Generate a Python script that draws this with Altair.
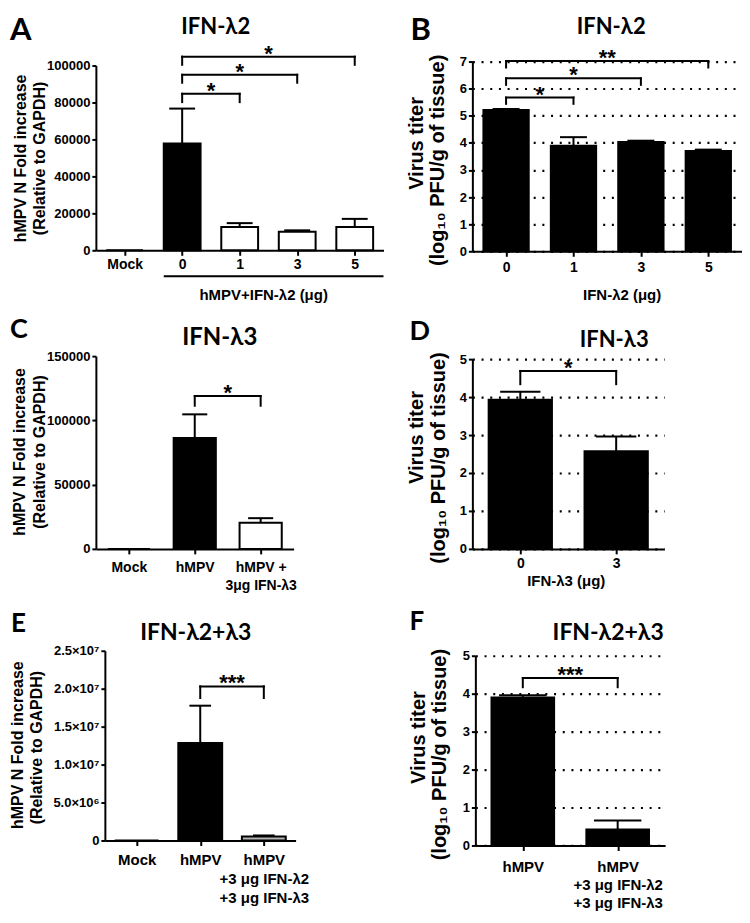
import json
import pandas as pd
import altair as alt

# ---------------- data ----------------
A_labels = ["Mock", "0", "1", "3", "5"]
A_means = [0, 57800, 12600, 10000, 12600]
A_errs = [0, 18900, 2100, 800, 4400]
A_pairs = [[1, 2], [1, 3], [1, 4]]
A_pair_y = [84700, 95000, 104800]
A_pair_tick = [80200, 90700, 100400]
A_stars = ["*", "*", "*"]

B_labels = ["0", "1", "3", "5"]
B_means = [5.21, 3.89, 4.03, 3.70]
B_errs = [0.04, 0.32, 0.05, 0.05]
B_pairs = [[0, 1], [0, 2], [0, 3]]
B_pair_y = [5.67, 6.38, 7.02]
B_pair_tick = [5.44, 6.14, 6.78]
B_stars = ["*", "*", "**"]

C_labels = ["Mock", "hMPV", "hMPV +|3μg IFN-λ3"]
C_means = [0, 86300, 20300]
C_errs = [0, 18400, 3600]
C_pairs = [[1, 2]]
C_pair_y = [118900]
C_pair_tick = [111400]
C_stars = ["*"]

D_labels = ["0", "3"]
D_means = [3.93, 2.57]
D_errs = [0.21, 0.39]
D_pairs = [[0, 1]]
D_pair_y = [4.69]
D_pair_tick = [4.34]
D_stars = ["*"]

E_labels = ["Mock", "hMPV", "hMPV|+3 μg IFN-λ2|+3 μg IFN-λ3"]
E_means = [0, 12850000, 530000]
E_errs = [0, 4910000, 130000]
E_pairs = [[1, 2]]
E_pair_y = [20300000]
E_pair_tick = [18770000]
E_stars = ["***"]

F_labels = ["hMPV", "hMPV|+3 μg IFN-λ2|+3 μg IFN-λ3"]
F_means = [3.90, 0.42]
F_errs = [0.06, 0.24]
F_pairs = [[0, 1]]
F_pair_y = [4.41]
F_pair_tick = [4.17]
F_stars = ["***"]

FONT = "Arial"
TFONT = "Lato"


def txt(text, x, y, size, font=FONT, angle=0, align="center", baseline="alphabetic"):
    return alt.Chart(pd.DataFrame({"t": [text]})).mark_text(
        font=font, fontWeight="bold", fontSize=size, angle=angle, align=align,
        baseline=baseline, color="black"
    ).encode(x=alt.value(x), y=alt.value(y), text="t:N")


def build(labels, means, errs, pairs, pair_y, pair_tick, stars, st):
    n = len(labels)
    hw, cw = st["hw"], st["cw"]
    df = pd.DataFrame({"pos": list(range(n)), "label": labels, "mean": means,
                       "err": errs, "fill": st["fills"]})
    df["lo"] = df["pos"] - hw
    df["hi"] = df["pos"] + hw
    df["top"] = df["mean"] + df["err"]
    df["clo"] = df["pos"] - cw
    df["chi"] = df["pos"] + cw
    eb = df[df["err"] > 0]
    br = pd.DataFrame({"x1": [p[0] for p in pairs], "x2": [p[1] for p in pairs],
                       "y": pair_y, "ylo": pair_tick, "star": stars})
    br["xm"] = (br["x1"] + br["x2"]) / 2
    ticks = pd.DataFrame({"x": list(br["x1"]) + list(br["x2"]),
                          "y": list(br["y"]) * 2, "ylo": list(br["ylo"]) * 2})

    xkw = {"range": st["xrange"]} if "xrange" in st else {}
    ykw = {"range": st["yrange"]} if "yrange" in st else {}
    xs = alt.Scale(domain=[-0.5, n - 0.5], nice=False, zero=False, **xkw)
    ys = alt.Scale(domain=[0, st["ymax"]], nice=False, **ykw)

    label_arr = json.dumps(labels, ensure_ascii=False)
    xaxis = alt.Axis(values=list(range(n)), labelExpr=f"split({label_arr}[datum.value], '|')",
                     title=None, grid=False, labelOverlap=False, labelFlush=False,
                     domainWidth=2, domainColor="black", tickWidth=2, tickColor="black",
                     tickSize=5, labelPadding=st["lp"], labelFont=FONT, labelFontWeight="bold",
                     labelFontSize=st["xfs"], labelLineHeight=st.get("lh", 18), labelColor="black")
    ykw2 = {}
    if "ylabelexpr" in st:
        ykw2["labelExpr"] = st["ylabelexpr"]
    else:
        ykw2["format"] = "d"
    if "yoffset" in st:
        ykw2["offset"] = st["yoffset"]
    yaxis = alt.Axis(values=st["yvals"], title=None, grid=st["grid"], gridDash=[2, 6.7],
                     gridWidth=2.2, gridColor="black", gridOpacity=1, domainWidth=2,
                     domainColor="black", tickWidth=2, tickColor="black", tickSize=4,
                     labelPadding=2, labelFont=FONT, labelFontWeight="bold",
                     labelFontSize=13, labelColor="black", **ykw2)

    def X(f):
        return alt.X(f, scale=xs, axis=xaxis)

    def Y(f):
        return alt.Y(f, scale=ys, axis=yaxis)

    bars = alt.Chart(df).mark_bar(stroke="black", strokeWidth=2).encode(
        x=X("lo:Q"), x2="hi:Q", y=Y("mean:Q"), y2=alt.datum(0),
        fill=alt.Fill("fill:N", scale=None))
    err = alt.Chart(eb).mark_rule(color="black", strokeWidth=2).encode(
        x=X("pos:Q"), y=Y("mean:Q"), y2="top:Q")
    caps = alt.Chart(eb).mark_rule(color="black", strokeWidth=2).encode(
        x=X("clo:Q"), x2="chi:Q", y=Y("top:Q"))
    bh = alt.Chart(br).mark_rule(color="black", strokeWidth=2, strokeCap="square").encode(
        x=X("x1:Q"), x2="x2:Q", y=Y("y:Q"))
    bt = alt.Chart(ticks).mark_rule(color="black", strokeWidth=2, strokeCap="square").encode(
        x=X("x:Q"), y=Y("y:Q"), y2="ylo:Q")
    sts = alt.Chart(br).mark_text(font=FONT, fontWeight="bold", fontSize=22,
                                  baseline="alphabetic", dy=4, color="black").encode(
        x=X("xm:Q"), y=Y("y:Q"), text="star:N")

    layers = [bars, err, caps, bh, bt, sts]
    if "underline" in st:
        layers.append(alt.Chart(df[df["pos"] == 1]).mark_rule(color="black", strokeWidth=2).encode(
            x=X("lo:Q"), x2=alt.value(st["width"]), y=alt.value(st["underline"])))
    lt, lx, ly, ls = st["letter"]
    layers.append(txt(lt, lx, ly, ls, font=TFONT, align="left"))
    tt, tx, ty, tsz = st["title"]
    layers.append(txt(tt, tx, ty, tsz, font=TFONT))
    for (yt, yx, yy) in st["ytitles"]:
        layers.append(txt(yt, yx, yy, st["ytsize"], angle=270, baseline="middle"))
    if "xtitle" in st:
        xt, xx, xy = st["xtitle"]
        layers.append(txt(xt, xx, xy, 15))
    return alt.layer(*layers).properties(width=st["width"], height=st["height"])


A = build(A_labels, A_means, A_errs, A_pairs, A_pair_y, A_pair_tick, A_stars, dict(
    width=288, height=189, yrange=[189, 4], ymax=100000,
    yvals=[0, 20000, 40000, 60000, 80000, 100000], grid=False, hw=0.32, cw=0.225,
    fills=["black", "black", "white", "white", "white"], lp=2, xfs=14,
    letter=("A", -86, -22, 31), title=("IFN-λ2", 120, -28, 22),
    ytitles=[("hMPV N Fold increase", -74.5, 97), ("(Relative to GAPDH)", -56, 97)], ytsize=16,
    xtitle=("hMPV+IFN-λ2 (μg)", 168, 239), underline=215))

B = build(B_labels, B_means, B_errs, B_pairs, B_pair_y, B_pair_tick, B_stars, dict(
    width=270, height=190, ymax=7, yvals=list(range(8)), grid=True, hw=0.336, cw=0.2,
    fills=["black"] * 4, lp=4, xfs=14,
    letter=("B", -62, -22, 31), title=("IFN-λ2", 139, -28, 22),
    ytitles=[("Virus titer", -55, 82), ("(log₁₀ PFU/g of tissue)", -34, 99)], ytsize=20,
    xtitle=("IFN-λ2 (μg)", 150, 239)))

C = build(C_labels, C_means, C_errs, C_pairs, C_pair_y, C_pair_tick, C_stars, dict(
    width=198, height=196, yrange=[196, 3], ymax=150000, yvals=[0, 50000, 100000, 150000],
    grid=False, hw=0.32, cw=0.19, fills=["black", "black", "white"], lp=7, xfs=14, lh=18,
    letter=("C", -86, -15, 27), title=("IFN-λ3", 124, -8, 24),
    ytitles=[("hMPV N Fold increase", -75.5, 99), ("(Relative to GAPDH)", -55.5, 99)], ytsize=16))

D = build(D_labels, D_means, D_errs, D_pairs, D_pair_y, D_pair_tick, D_stars, dict(
    width=192, height=196, yrange=[196, 6], ymax=5, yvals=list(range(6)), grid=True,
    hw=0.33, cw=0.21, fills=["black", "black"], lp=3, xfs=14,
    letter=("D", -63, -13, 27), title=("IFN-λ3", 142, -6, 22),
    ytitles=[("Virus titer", -55, 84.5), ("(log₁₀ PFU/g of tissue)", -33, 105)], ytsize=20,
    xtitle=("IFN-λ3 (μg)", 94, 233)))

E = build(E_labels, E_means, E_errs, E_pairs, E_pair_y, E_pair_tick, E_stars, dict(
    width=200, height=190, xrange=[9, 200], yoffset=-9, ymax=25000000,
    yvals=[0, 5000000, 10000000, 15000000, 20000000, 25000000],
    ylabelexpr="datum.value == 0 ? '0' : (datum.value < 1e7 ? format(datum.value / 1e6, '.1f') + '×10⁶' : format(datum.value / 1e7, '.1f') + '×10⁷')",
    grid=False, hw=0.345, cw=0.17, fills=["black", "black", "#b4b4b4"], lp=7, xfs=15, lh=19,
    letter=("E", -85, -19, 26), title=("IFN-λ2+λ3", 100, -11, 23),
    ytitles=[("hMPV N Fold increase", -77.5, 94.5), ("(Relative to GAPDH)", -58.5, 97)], ytsize=16))

F = build(F_labels, F_means, F_errs, F_pairs, F_pair_y, F_pair_tick, F_stars, dict(
    width=193, height=195, xrange=[3, 193], yoffset=-3, yrange=[195, 5], ymax=5,
    yvals=list(range(6)), grid=True, hw=0.33, cw=0.25, fills=["black", "black"],
    lp=9, xfs=15, lh=18,
    letter=("F", -63, -21, 26), title=("IFN-λ2+λ3", 136, -11, 23),
    ytitles=[("Virus titer", -53, 87), ("(log₁₀ PFU/g of tissue)", -32, 104)], ytsize=20))

chart = alt.concat(A, B, C, D, E, F, columns=2, spacing={"row": 102, "column": 89},
                   bounds="flush", align="each").configure_view(stroke=None).properties(
    padding={"top": 6, "left": 2, "right": 0, "bottom": 0}, background="white")

chart.save("out.html", embed_options={"renderer": "svg", "actions": False})
